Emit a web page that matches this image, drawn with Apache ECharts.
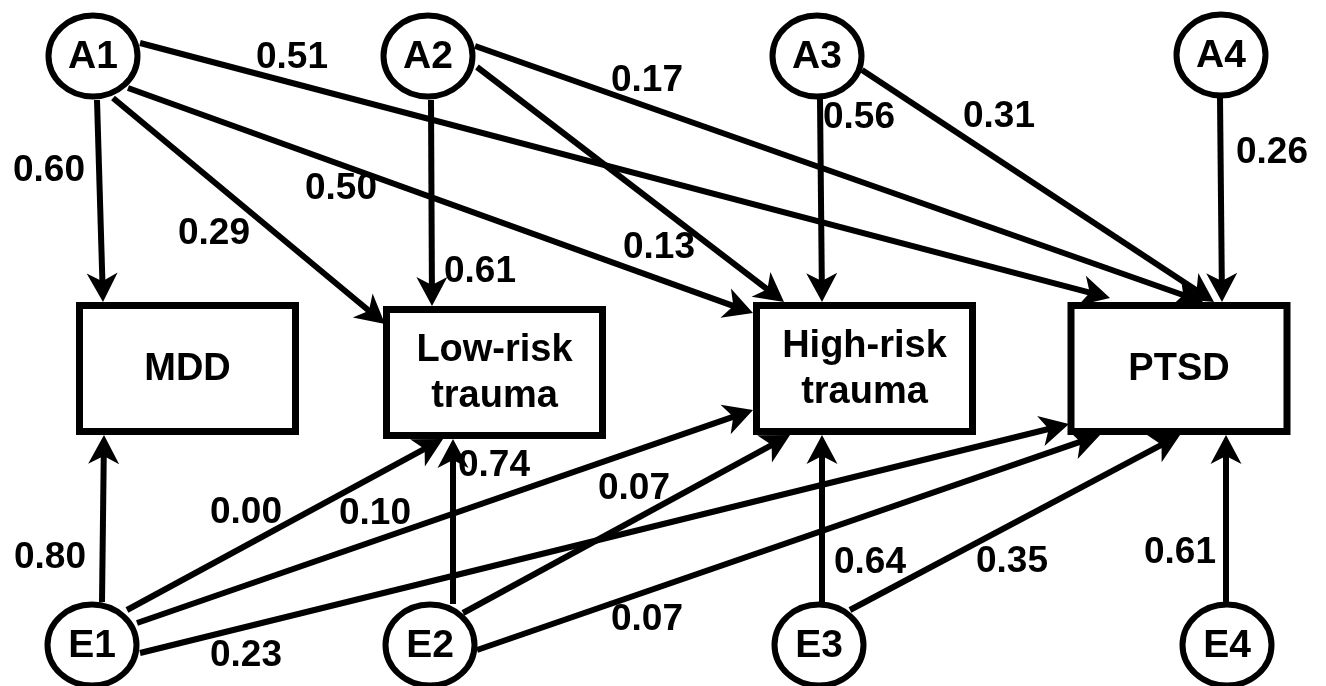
<!DOCTYPE html>
<html>
<head>
<meta charset="utf-8">
<script src="https://cdn.jsdelivr.net/npm/echarts@6/dist/echarts.min.js"></script>
<style>
html,body{margin:0;padding:0;background:#fff;}
#chart{width:1326px;height:686px;}
</style>
</head>
<body>
<div id="chart"></div>
<script>
// ---------- DATA ----------
// latent factors (circles) and observed variables (boxes)
const latentNames = ['A1', 'A2', 'A3', 'A4', 'E1', 'E2', 'E3', 'E4'];
const observedNames = ['MDD', 'Low-risk\ntrauma', 'High-risk\ntrauma', 'PTSD'];

// path coefficients: source -> target
const pathFrom = ['A1','A1','A1','A1','A2','A2','A2','A3','A3','A4',
                  'E1','E1','E1','E1','E2','E2','E2','E3','E3','E4'];
const pathTo   = ['MDD','Low-risk','High-risk','PTSD','Low-risk','High-risk','PTSD','High-risk','PTSD','PTSD',
                  'MDD','Low-risk','High-risk','PTSD','Low-risk','High-risk','PTSD','High-risk','PTSD','PTSD'];
const pathCoef = ['0.60','0.29','0.50','0.51','0.61','0.13','0.17','0.56','0.31','0.26',
                  '0.80','0.00','0.10','0.23','0.74','0.07','0.07','0.64','0.35','0.61'];

// ---------- LAYOUT (diagram coordinates, drawn through the axes) ----------
const latentX = [93, 428, 817, 1221, 92, 430, 819, 1227];
const latentY = [56, 56, 56, 55, 645, 645, 645, 645];
const observedX = [187.5, 494.5, 864.5, 1179];
const observedY = [368.5, 372.5, 368.5, 368.5];
// edge start / end points
const edgeStart = [[97,100],[113,98],[128,88],[140,43],[431,100],[477,67],[475,46],[820,99],[862,70],[1220,97],
                   [102,602],[127,610],[137,623],[140,653],[453,604],[463,613],[477,650],[822,602],[850,610],[1226,602]];
const edgeEnd   = [[103,302],[385,324],[753,313],[1110,298],[432,306],[784,302],[1203,302],[822,302],[1214,302],[1222,302],
                   [104,435],[443,439],[753,410],[1069,424],[453,439],[790,435],[1100,435],[822,435],[1180,435],[1226,435]];
// coefficient label anchors
const labelPos = [[49,170],[214,233],[341,188],[292,57],[480,271],[659,247],[647,80],[859,117],[999,116],[1272,152],
                  [50,557],[246,512],[375,513],[246,655],[494,465],[634,488],[647,619],[870,562],[1012,561],[1180,552]];

// ---------- CHART ----------
const chart = echarts.init(document.getElementById('chart'), null, {renderer: 'canvas'});
const FONT = '"Liberation Sans", Arial, Helvetica, sans-serif';
const INK = '#000';

const edgeData = pathCoef.map((c, i) => [edgeStart[i][0], edgeStart[i][1], edgeEnd[i][0], edgeEnd[i][1]]);
const latentData = latentNames.map((n, i) => [latentX[i], latentY[i], n]);
const observedData = observedNames.map((n, i) => [observedX[i], observedY[i], n]);
const labelData = pathCoef.map((c, i) => [labelPos[i][0], labelPos[i][1], c]);

function renderEdge(params, api) {
  const p1 = api.coord([api.value(0), api.value(1)]);
  const p2 = api.coord([api.value(2), api.value(3)]);
  let dx = p2[0] - p1[0], dy = p2[1] - p1[1];
  const len = Math.sqrt(dx * dx + dy * dy);
  dx /= len; dy /= len;
  const px = -dy, py = dx;
  const L = 29, W = 31, notch = 0.72;
  const bx = p2[0] - dx * L, by = p2[1] - dy * L;
  const nx = p2[0] - dx * L * notch, ny = p2[1] - dy * L * notch;
  return {
    type: 'group',
    children: [
      {
        type: 'line',
        shape: {x1: p1[0], y1: p1[1], x2: nx + dx * 2, y2: ny + dy * 2},
        style: {stroke: INK, lineWidth: 6, lineCap: 'butt'}
      },
      {
        type: 'polygon',
        shape: {points: [p2, [bx + px * W / 2, by + py * W / 2], [nx, ny], [bx - px * W / 2, by - py * W / 2]]},
        style: {fill: INK}
      }
    ]
  };
}

function renderLatent(params, api) {
  const c = api.coord([api.value(0), api.value(1)]);
  return {
    type: 'group',
    children: [
      {
        type: 'ellipse',
        shape: {cx: c[0], cy: c[1], rx: 44.5, ry: 40.5},
        style: {fill: '#fff', stroke: INK, lineWidth: 6}
      },
      {
        type: 'text',
        style: {
          text: latentData[params.dataIndex][2], x: c[0], y: c[1] + 1,
          align: 'center', verticalAlign: 'middle',
          font: 'bold 39px ' + FONT, fill: INK
        }
      }
    ]
  };
}

function renderObserved(params, api) {
  const c = api.coord([api.value(0), api.value(1)]);
  const w = 216, h = 126;
  return {
    type: 'group',
    children: [
      {
        type: 'rect',
        shape: {x: c[0] - w / 2, y: c[1] - h / 2, width: w, height: h},
        style: {fill: '#fff', stroke: INK, lineWidth: 7}
      },
      {
        type: 'text',
        style: {
          text: observedData[params.dataIndex][2], x: c[0], y: c[1] + 1,
          align: 'center', verticalAlign: 'middle', lineHeight: 46,
          font: 'bold 38px ' + FONT, fill: INK
        }
      }
    ]
  };
}

function renderLabel(params, api) {
  const c = api.coord([api.value(0), api.value(1)]);
  return {
    type: 'text',
    style: {
      text: labelData[params.dataIndex][2], x: c[0], y: c[1] + 1,
      align: 'center', verticalAlign: 'middle',
      font: 'bold 37px ' + FONT, fill: INK
    }
  };
}

chart.setOption({
  animation: false,
  backgroundColor: '#fff',
  grid: {left: 0, right: 0, top: 0, bottom: 0},
  xAxis: {type: 'value', min: 0, max: 1326, show: false},
  yAxis: {type: 'value', min: 0, max: 686, inverse: true, show: false},
  series: [
    {type: 'custom', name: 'paths', coordinateSystem: 'cartesian2d', clip: false, renderItem: renderEdge, data: edgeData, z: 2},
    {type: 'custom', name: 'observed', coordinateSystem: 'cartesian2d', clip: false, renderItem: renderObserved, data: observedData, z: 3},
    {type: 'custom', name: 'latent', coordinateSystem: 'cartesian2d', clip: false, renderItem: renderLatent, data: latentData, z: 3},
    {type: 'custom', name: 'coefficients', coordinateSystem: 'cartesian2d', clip: false, renderItem: renderLabel, data: labelData, z: 4}
  ]
});
</script>
</body>
</html>
